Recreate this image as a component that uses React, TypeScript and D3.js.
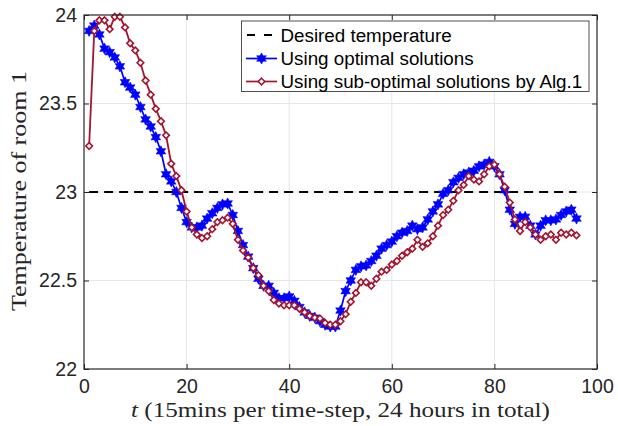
import * as d3 from "d3";
import { useRef, useEffect } from "react";

// time steps 1..96
const steps: number[] = d3.range(1, 97);

const desired: number = 23;

const optimal: number[] = [
  23.91, 23.94, 23.89, 23.81, 23.79, 23.76, 23.71, 23.62, 23.59, 23.55,
  23.48, 23.41, 23.37, 23.31, 23.23, 23.1, 23.06, 23.0, 22.91, 22.83,
  22.8, 22.8, 22.81, 22.85, 22.88, 22.91, 22.93, 22.935, 22.87, 22.78,
  22.7, 22.635, 22.57, 22.51, 22.47, 22.47, 22.43, 22.4, 22.4, 22.41,
  22.385, 22.35, 22.32, 22.3, 22.29, 22.27, 22.25, 22.24, 22.24, 22.33,
  22.44, 22.5, 22.56, 22.58, 22.585, 22.61, 22.64, 22.68, 22.7, 22.72,
  22.75, 22.77, 22.78, 22.81, 22.79, 22.8, 22.845, 22.89, 22.93, 22.99,
  23.01, 23.055, 23.08, 23.1, 23.11, 23.12, 23.145, 23.155, 23.17, 23.145,
  23.1, 23.01, 22.9, 22.82, 22.86, 22.86, 22.81, 22.76, 22.81, 22.84,
  22.84, 22.845, 22.87, 22.89, 22.9, 22.85,
];

const subOptimal: number[] = [
  23.26, 23.91, 23.97, 23.97, 23.92, 23.99, 23.99, 23.93, 23.84, 23.8,
  23.73, 23.63, 23.55, 23.47, 23.4, 23.32, 23.16, 23.09, 23.01, 22.89,
  22.8, 22.76, 22.74, 22.75, 22.79, 22.83, 22.84, 22.855, 22.82, 22.73,
  22.67, 22.63, 22.57, 22.53, 22.47, 22.44, 22.39, 22.37, 22.36, 22.36,
  22.36, 22.34, 22.32, 22.3, 22.29, 22.285, 22.26, 22.25, 22.25, 22.27,
  22.31, 22.38, 22.43, 22.49, 22.49, 22.47, 22.51, 22.55, 22.56, 22.59,
  22.61, 22.64, 22.66, 22.68, 22.73, 22.69, 22.71, 22.75, 22.81, 22.87,
  22.9, 22.95, 23.01, 23.04, 23.09, 23.07, 23.06, 23.1, 23.145, 23.155,
  23.1, 23.03, 22.94, 22.845, 22.78, 22.83, 22.8, 22.76, 22.73, 22.75,
  22.76, 22.73, 22.77, 22.76, 22.77, 22.755,
];

const xTicks: number[] = [0, 20, 40, 60, 80, 100];
const yTicks: number[] = [22, 22.5, 23, 23.5, 24];

const legendLabels: string[] = [
  "Desired temperature",
  "Using optimal solutions",
  "Using sub-optimal solutions by Alg.1",
];

const BLUE = "#0000ff";
const RED = "#a2142f";

// six pointed star (matlab "h")
const hexagram: any = {
  draw(ctx: any, size: number) {
    const r = Math.sqrt(size) * 0.62;
    const ri = r * 0.55;
    for (let i = 0; i < 12; i++) {
      const a = (Math.PI / 6) * i - Math.PI / 2;
      const rr = i % 2 === 0 ? r : ri;
      const x = rr * Math.cos(a);
      const y = rr * Math.sin(a);
      if (i === 0) ctx.moveTo(x, y);
      else ctx.lineTo(x, y);
    }
    ctx.closePath();
  },
};

const diamond: any = {
  draw(ctx: any, size: number) {
    const r = Math.sqrt(size) / 2;
    ctx.moveTo(0, -r);
    ctx.lineTo(r, 0);
    ctx.lineTo(0, r);
    ctx.lineTo(-r, 0);
    ctx.closePath();
  },
};

export default function App() {
  const svgRef: any = useRef();

  useEffect(() => {
    const w = 618;
    const h = 426;
    const m = { left: 84, right: 597, top: 15, bottom: 369 };

    const svg = d3.select(svgRef.current).attr("width", w).attr("height", h);
    svg.selectAll("*").remove();
    svg.append("rect").attr("width", w).attr("height", h).attr("fill", "white");

    const xScale = d3.scaleLinear().domain([0, 100]).range([m.left, m.right]);
    const yScale = d3.scaleLinear().domain([22, 24]).range([m.bottom, m.top]);

    // grid
    const grid = svg.append("g").attr("stroke", "#e6e6e6").attr("stroke-width", 1);
    xTicks.slice(1, -1).forEach((t) => {
      grid.append("line").attr("x1", xScale(t)).attr("x2", xScale(t)).attr("y1", m.top).attr("y2", m.bottom);
    });
    yTicks.slice(1, -1).forEach((t) => {
      grid.append("line").attr("x1", m.left).attr("x2", m.right).attr("y1", yScale(t)).attr("y2", yScale(t));
    });

    // desired temperature
    svg
      .append("line")
      .attr("x1", xScale(steps[0]))
      .attr("x2", xScale(steps[steps.length - 1]))
      .attr("y1", yScale(desired))
      .attr("y2", yScale(desired))
      .attr("stroke", "black")
      .attr("stroke-width", 2)
      .attr("stroke-dasharray", "9,6");

    const line = d3
      .line<number>()
      .x((d, i) => xScale(steps[i]))
      .y((d) => yScale(d));

    const starSym = d3.symbol().type(hexagram).size(80);
    const diaSym = d3.symbol().type(diamond).size(44);

    // optimal
    svg.append("path").attr("d", line(optimal)).attr("fill", "none").attr("stroke", BLUE).attr("stroke-width", 1.7);
    svg
      .append("g")
      .selectAll("path")
      .data(optimal)
      .join("path")
      .attr("d", starSym as any)
      .attr("transform", (d, i) => `translate(${xScale(steps[i])},${yScale(d)})`)
      .attr("fill", BLUE)
      .attr("stroke", BLUE)
      .attr("stroke-width", 0.6);

    // sub-optimal
    svg.append("path").attr("d", line(subOptimal)).attr("fill", "none").attr("stroke", RED).attr("stroke-width", 1.8);
    svg
      .append("g")
      .selectAll("path")
      .data(subOptimal)
      .join("path")
      .attr("d", diaSym as any)
      .attr("transform", (d, i) => `translate(${xScale(steps[i])},${yScale(d)})`)
      .attr("fill", "white")
      .attr("stroke", RED)
      .attr("stroke-width", 1.6);

    // axes box
    const axisColor = "#262626";
    const xAxis = d3.axisBottom(xScale).tickValues(xTicks).tickSize(-5).tickPadding(7).tickFormat((d: any) => `${d}`);
    const yAxis = d3.axisLeft(yScale).tickValues(yTicks).tickSize(-5).tickPadding(7).tickFormat((d: any) => `${d}`);
    const gx = svg.append("g").attr("transform", `translate(0,${m.bottom})`).call(xAxis);
    const gy = svg.append("g").attr("transform", `translate(${m.left},0)`).call(yAxis);
    [gx, gy].forEach((g) => {
      g.select(".domain").remove();
      g.selectAll("line").attr("stroke", axisColor);
      g.selectAll("text")
        .attr("fill", "#262626")
        .style("font-family", "'Liberation Sans', Arial, sans-serif")
        .style("font-size", "19.5px");
    });
    gx.selectAll("text").attr("dy", "0.85em");
    // top ticks
    const gt = svg.append("g").attr("transform", `translate(0,${m.top})`).call(d3.axisTop(xScale).tickValues(xTicks).tickSize(-5).tickFormat(() => ""));
    gt.select(".domain").remove();
    gt.selectAll("line").attr("stroke", axisColor);
    const gr = svg.append("g").attr("transform", `translate(${m.right},0)`).call(d3.axisRight(yScale).tickValues(yTicks).tickSize(-5).tickFormat(() => ""));
    gr.select(".domain").remove();
    gr.selectAll("line").attr("stroke", axisColor);

    svg
      .append("rect")
      .attr("x", m.left)
      .attr("y", m.top)
      .attr("width", m.right - m.left)
      .attr("height", m.bottom - m.top)
      .attr("fill", "none")
      .attr("stroke", axisColor)
      .attr("stroke-width", 1.2);

    // axis labels
    const xl = svg
      .append("text")
      .attr("x", 131)
      .attr("y", 417)
      .attr("textLength", 419)
      .attr("lengthAdjust", "spacingAndGlyphs")
      .attr("fill", "#262626")
      .style("font-family", "'Liberation Serif', 'Times New Roman', serif")
      .style("font-size", "21px");
    xl.append("tspan").style("font-style", "italic").text("t");
    xl.append("tspan").text(" (15mins per time-step, 24 hours in total)");

    svg
      .append("text")
      .attr("transform", `translate(26,${(m.top + m.bottom) / 2 - 1}) rotate(-90)`)
      .attr("text-anchor", "middle")
      .attr("textLength", 240)
      .attr("lengthAdjust", "spacingAndGlyphs")
      .attr("fill", "#262626")
      .style("font-family", "'Liberation Serif', 'Times New Roman', serif")
      .style("font-size", "21px")
      .text("Temperature of room 1");

    // legend
    const lg = svg.append("g");
    lg.append("rect")
      .attr("x", 241.5)
      .attr("y", 21)
      .attr("width", 347.5)
      .attr("height", 70.5)
      .attr("fill", "white")
      .attr("stroke", axisColor)
      .attr("stroke-width", 0.8);
    const rows = [35, 58.5, 81.5];
    legendLabels.forEach((label, i) => {
      const y = rows[i];
      if (i === 0) {
        lg.append("line")
          .attr("x1", 247).attr("x2", 276).attr("y1", y).attr("y2", y)
          .attr("stroke", "black").attr("stroke-width", 2).attr("stroke-dasharray", "8,9");
      } else {
        const col = i === 1 ? BLUE : RED;
        lg.append("line")
          .attr("x1", 246).attr("x2", 277).attr("y1", y).attr("y2", y)
          .attr("stroke", col).attr("stroke-width", 1.7);
        lg.append("path")
          .attr("d", (i === 1 ? starSym : diaSym)() as any)
          .attr("transform", `translate(261.5,${y})`)
          .attr("fill", i === 1 ? BLUE : "white")
          .attr("stroke", col)
          .attr("stroke-width", i === 1 ? 0.6 : 1.5);
      }
      lg.append("text")
        .attr("x", 280.5)
        .attr("y", y)
        .attr("dy", "0.36em")
        .attr("fill", "black")
        .style("font-family", "'Liberation Sans', Arial, sans-serif")
        .style("font-size", "18.8px")
        .text(label);
    });
  }, []);

  return (
    <div style={{ position: "absolute", left: 0, top: 0 }}>
      <svg ref={svgRef} style={{ display: "block" }}></svg>
    </div>
  );
}
